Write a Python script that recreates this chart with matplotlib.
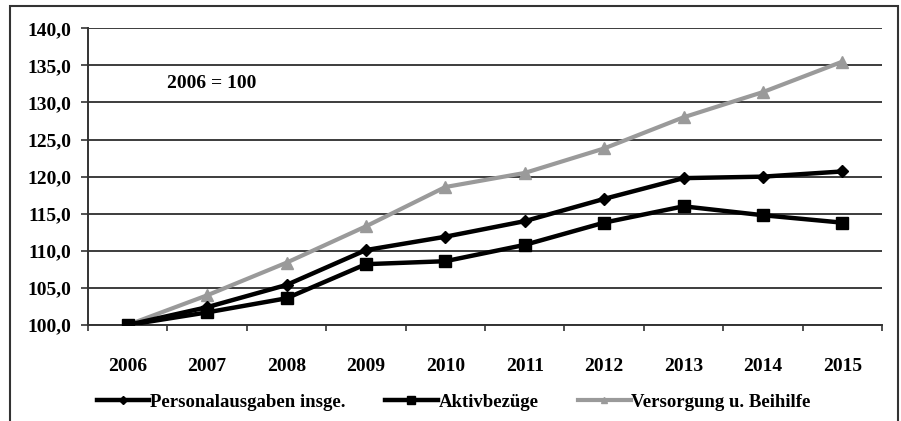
import matplotlib.pyplot as plt
from matplotlib.patches import Rectangle
from matplotlib.lines import Line2D

# Index 2006 = 100
years = ["2006", "2007", "2008", "2009", "2010", "2011", "2012", "2013", "2014", "2015"]
personal = [100.0, 102.4, 105.4, 110.1, 111.9, 114.0, 117.0, 119.8, 120.0, 120.7]
aktiv = [100.0, 101.7, 103.6, 108.2, 108.6, 110.8, 113.8, 116.0, 114.8, 113.8]
versorgung = [100.0, 104.0, 108.4, 113.3, 118.6, 120.5, 123.8, 128.0, 131.4, 135.5]
yticks = [100, 105, 110, 115, 120, 125, 130, 135, 140]

plt.rcParams['font.family'] = ['Liberation Serif', 'DejaVu Serif']

fig = plt.figure(figsize=(9.01, 4.21), dpi=100)
fig.patches.append(Rectangle((10 / 901, -0.02), 888 / 901, 1.02 - 6 / 421,
                             transform=fig.transFigure, fill=False,
                             edgecolor='#333333', linewidth=1.5))

ax = fig.add_axes([88 / 901, 1 - 325 / 421, 794 / 901, (325 - 28.3) / 421])
x = list(range(len(years)))

ax.plot(x, versorgung, color='#9a9a9a', lw=3, marker='^', ms=9, zorder=3)
ax.plot(x, aktiv, color='black', lw=3.2, marker='s', ms=9, zorder=4)
ax.plot(x, personal, color='black', lw=3.2, marker='D', ms=6, zorder=5)

ax.set_xlim(-0.5, len(years) - 0.5)
ax.set_ylim(100, 140)
ax.set_yticks(yticks)
ax.set_yticklabels([f"{v:.1f}".replace('.', ',') for v in yticks],
                   fontsize=14, fontweight='bold')
ax.set_xticks(x)
ax.set_xticklabels(years, fontsize=14, fontweight='bold')
ax.set_xticks([i - 0.5 for i in range(len(years) + 1)], minor=True)
ax.tick_params(axis='x', which='major', length=0, pad=24)
ax.tick_params(axis='x', which='minor', length=4, width=1.2, color='#333333', direction='out')
ax.tick_params(axis='y', length=5, width=1.2, color='#333333', pad=7)

ax.grid(axis='y', color='#3c3c3c', lw=1.4)
ax.set_axisbelow(True)
for s in ['top', 'right']:
    ax.spines[s].set_visible(False)
ax.spines['left'].set_color('#333333')
ax.spines['left'].set_linewidth(1.4)
ax.spines['bottom'].set_color('#333333')
ax.spines['bottom'].set_linewidth(1.4)

ax.text(0.1, 0.815, "2006 = 100", transform=ax.transAxes,
        fontsize=14, fontweight='bold', va='center')

# legend uses smaller markers than the plotted series
legend_handles = [
    Line2D([], [], color='black', lw=3.2, marker='D', ms=4),
    Line2D([], [], color='black', lw=3.2, marker='s', ms=6),
    Line2D([], [], color='#9a9a9a', lw=3, marker='^', ms=5),
]
legend_labels = ['Personalausgaben insge.', 'Aktivbezüge', 'Versorgung u. Beihilfe']
fig.legend(legend_handles, legend_labels,
           loc='center left', bbox_to_anchor=(80 / 901, 1 - 402 / 421), ncol=3,
           frameon=False, prop={'size': 13.5, 'weight': 'bold'},
           handlelength=2.8, columnspacing=2.1, handletextpad=0.05)

fig.savefig("out.png", dpi=100)
